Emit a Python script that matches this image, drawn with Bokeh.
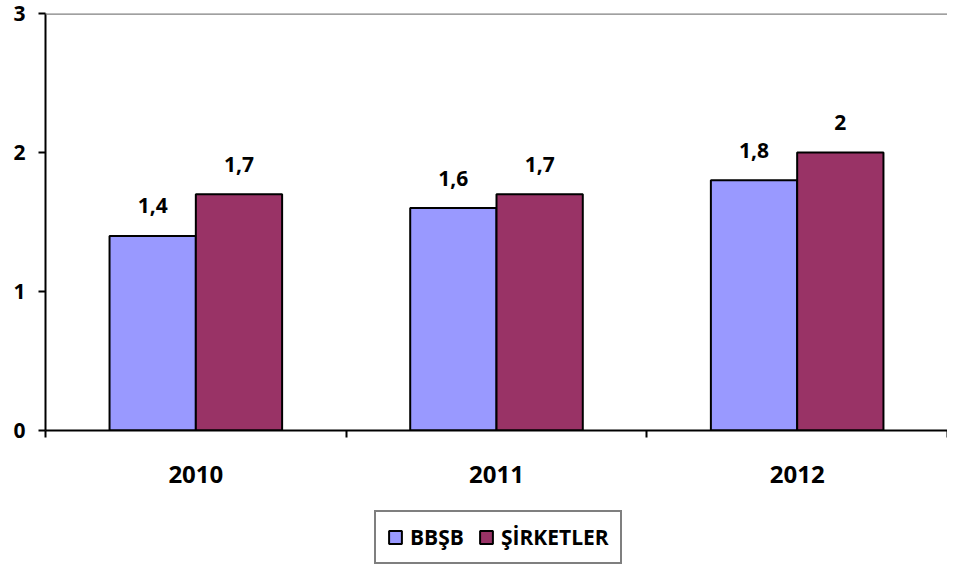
from bokeh.plotting import figure
from bokeh.layouts import column
from bokeh.models import (ColumnDataSource, Range1d, LinearAxis, FixedTicker, Legend,
                          LegendItem, Span)
from bokeh.transform import dodge
from bokeh.core.properties import value
from bokeh.embed import file_html
from bokeh.resources import INLINE

# ---- data ----
years = ["2010", "2011", "2012"]
bbsb = [1.4, 1.6, 1.8]
sirketler = [1.7, 1.7, 2.0]
y_ticks = [0, 1, 2, 3]
series_names = ["BBŞB", "ŞİRKETLER"]


def fmt(v):
    s = ("%g" % v)
    return s.replace(".", ",")


FONT = "Open Sans"
BLUE = "#9999FF"
MAROON = "#993366"
W = 947

centers = [i + 0.5 for i in range(len(years))]
src = ColumnDataSource(dict(
    x=centers,
    year=years,
    a=bbsb,
    b=sirketler,
    alab=[fmt(v) for v in bbsb],
    blab=[fmt(v) for v in sirketler],
))

p = figure(width=W, height=505, output_backend="svg", toolbar_location=None,
           x_range=Range1d(0, len(years)), y_range=Range1d(0, 3),
           min_border_left=45, min_border_right=0, min_border_top=13,
           min_border_bottom=75, x_axis_type=None, y_axis_type=None)
p.outline_line_color = None
p.xgrid.visible = False
p.ygrid.visible = False
p.background_fill_color = "white"
p.border_fill_color = "white"

BW = 0.287
OFF = 0.1435
r1 = p.vbar(x=dodge("x", -OFF, range=p.x_range), top="a", width=BW, source=src,
            fill_color=BLUE, line_color="black", line_width=2)
r2 = p.vbar(x=dodge("x", OFF, range=p.x_range), top="b", width=BW, source=src,
            fill_color=MAROON, line_color="black", line_width=2)

for col, lab, off in (("a", "alab", -OFF), ("b", "blab", OFF)):
    p.text(x=dodge("x", off, range=p.x_range), y=col, text=lab, source=src,
           text_font=value(FONT), text_font_style="bold", text_font_size="21px",
           text_color="black", text_align="center", text_baseline="alphabetic",
           y_offset=-30)

# top border line
p.add_layout(Span(location=3, dimension="width", line_color="#808080", line_width=2.5))

# y axis
yax = LinearAxis(ticker=FixedTicker(ticks=y_ticks))
yax.axis_line_color = "black"
yax.axis_line_width = 2
yax.major_tick_line_color = "black"
yax.major_tick_line_width = 2
yax.major_tick_out = 7
yax.major_tick_in = 0
yax.minor_tick_line_color = None
yax.major_label_standoff = 13
yax.major_label_text_font = FONT
yax.major_label_text_font_style = "bold"
yax.major_label_text_font_size = "21px"
yax.major_label_text_color = "black"
p.add_layout(yax, "left")

# x axis: labels at category centers, ticks at boundaries
xax = LinearAxis(ticker=FixedTicker(ticks=centers,
                                    minor_ticks=list(range(len(years) + 1))))
xax.major_label_overrides = {c: y for c, y in zip(centers, years)}
xax.axis_line_color = "black"
xax.axis_line_width = 2
xax.major_tick_line_color = None
xax.major_tick_out = 0
xax.major_tick_in = 0
xax.minor_tick_line_color = "black"
xax.minor_tick_line_width = 2
xax.minor_tick_out = 7
xax.minor_tick_in = 0
xax.major_label_standoff = 28
xax.major_label_text_font = FONT
xax.major_label_text_font_style = "bold"
xax.major_label_text_font_size = "24px"
xax.major_label_text_color = "black"
p.add_layout(xax, "below")

# ---- legend strip (separate, axis-less figure) ----
q = figure(width=W, height=60, output_backend="svg", toolbar_location=None,
           x_range=Range1d(0, 1), y_range=Range1d(0, 1),
           min_border_left=0, min_border_right=0, min_border_top=0,
           min_border_bottom=0, x_axis_type=None, y_axis_type=None)
q.outline_line_color = None
q.xgrid.visible = False
q.ygrid.visible = False
q.background_fill_color = "white"
q.border_fill_color = "white"
# hidden renderers that only provide the legend swatches
e1 = q.vbar(x="x", top="a", width=0.1, source=src, fill_color=BLUE,
            line_color="black", line_width=2, visible=False)
e2 = q.vbar(x="x", top="b", width=0.1, source=src, fill_color=MAROON,
            line_color="black", line_width=2, visible=False)

legend = Legend(items=[LegendItem(label=series_names[0], renderers=[e1]),
                       LegendItem(label=series_names[1], renderers=[e2])],
                orientation="horizontal", location=(329, 1))
legend.click_policy = "none"
legend.inactive_fill_alpha = 0
legend.border_line_color = "black"
legend.border_line_width = 2
legend.background_fill_color = "white"
legend.background_fill_alpha = 1
legend.label_text_font = FONT
legend.label_text_font_style = "bold"
legend.label_text_font_size = "21px"
legend.label_text_color = "black"
legend.glyph_width = 16
legend.glyph_height = 16
legend.label_standoff = 7
legend.spacing = 14
legend.padding = 11
legend.margin = 0
legend.label_height = 20
q.add_layout(legend, "center")

layout = column(p, q, spacing=0)
open("out.html", "w").write(file_html(layout, INLINE))
